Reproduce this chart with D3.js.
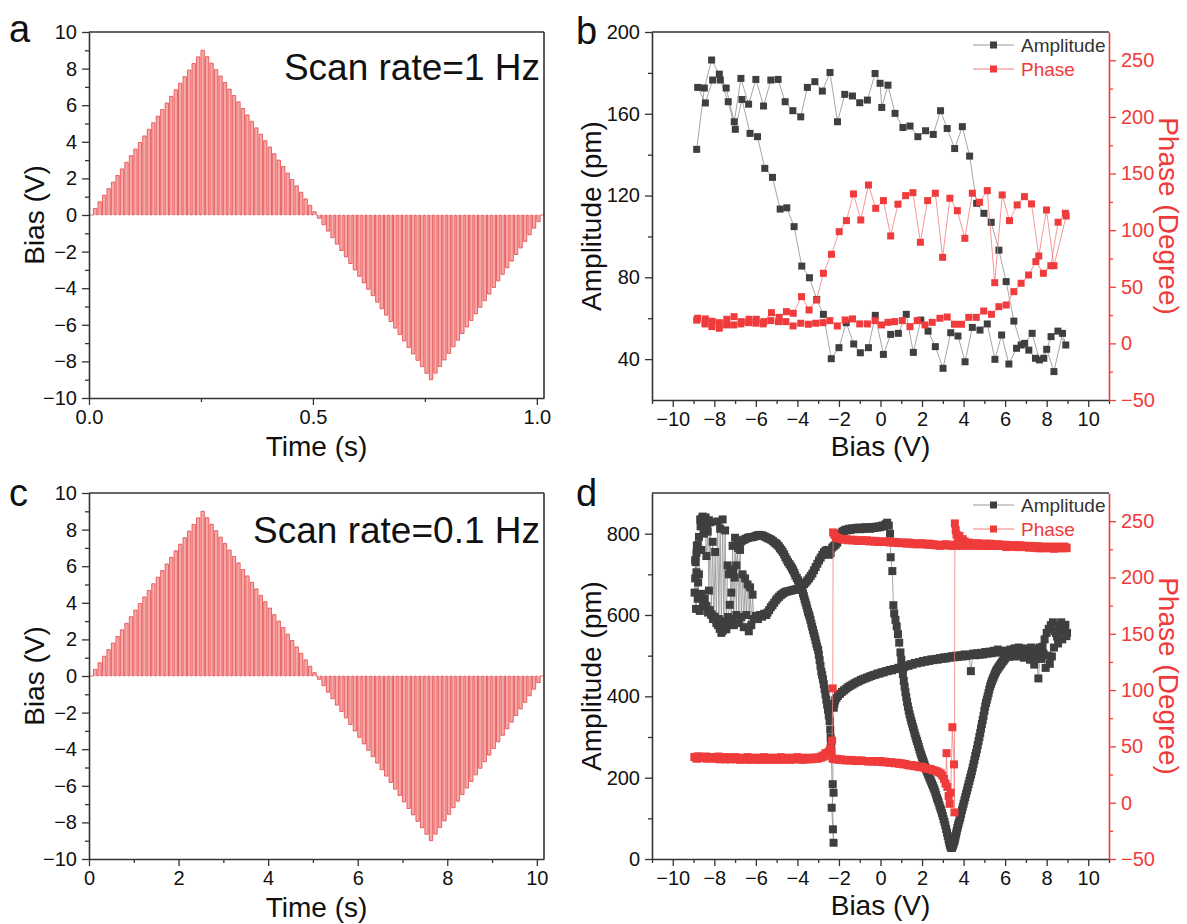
<!DOCTYPE html>
<html><head><meta charset="utf-8">
<script src="https://cdn.jsdelivr.net/npm/d3@7"></script>
<style>
body{margin:0;background:#fff}
text{font-family:"Liberation Sans",Arial,Helvetica,sans-serif}
</style>
</head><body>
<svg id="chart" width="1187" height="924"></svg>
<script>
// ---------------- DATA ----------------
// Pulse amplitudes (V) of the SS-PFM bias waveform (one value per pulse)
const pulseBias = [0.36,0.72,1.08,1.44,1.8,2.16,2.52,2.88,3.24,3.6,3.96,4.32,4.68,5.04,5.4,5.76,6.12,6.48,6.84,7.2,7.56,7.92,8.28,8.64,9.0,
8.65,8.29,7.94,7.59,7.24,6.88,6.53,6.18,5.82,5.47,5.12,4.76,4.41,4.06,3.71,3.35,3.0,2.65,2.29,1.94,1.59,1.24,0.88,0.53,0.18,
-0.18,-0.53,-0.88,-1.24,-1.59,-1.94,-2.29,-2.65,-3.0,-3.35,-3.71,-4.06,-4.41,-4.76,-5.12,-5.47,-5.82,-6.18,-6.53,-6.88,-7.24,-7.59,-7.94,-8.29,-8.65,-9.0,
-8.64,-8.28,-7.92,-7.56,-7.2,-6.84,-6.48,-6.12,-5.76,-5.4,-5.04,-4.68,-4.32,-3.96,-3.6,-3.24,-2.88,-2.52,-2.16,-1.8,-1.44,-1.08,-0.72,-0.36];
const pulsePeriodA = 0.01;   // s, scan rate 1 Hz
const pulsePeriodC = 0.1;    // s, scan rate 0.1 Hz
const pulseDuty = 0.75;

// Tick values
const timeTicksA = [0, 0.5, 1.0], timeMinorA = [0.25, 0.75];
const timeTicksC = [0, 2, 4, 6, 8, 10], timeMinorC = [1, 3, 5, 7, 9];
const biasTicksY = [-10,-8,-6,-4,-2,0,2,4,6,8,10], biasMinorY = [-9,-7,-5,-3,-1,1,3,5,7,9];
const biasTicksX = [-10,-8,-6,-4,-2,0,2,4,6,8,10], biasMinorX = [-11,-9,-7,-5,-3,-1,1,3,5,7,9,11];
const ampTicksB = [40,80,120,160,200], ampMinorB = [60,100,140,180];
const ampTicksD = [0,200,400,600,800], ampMinorD = [100,300,500,700];
const phaseTicks = [-50,0,50,100,150,200,250], phaseMinor = [-25,25,75,125,175,225];

// Panel b : amplitude (pm), forward sweep then backward sweep
const bAmpFwdBias = [-8.85,-8.48,-8.13,-7.76,-7.43,-7.04,-6.72,-6.35,-6.0,-5.63,-5.28,-4.93,-4.59,-4.22,-3.84,-3.52,-3.16,-2.8,-2.43,-2.07,-1.72,-1.35,-1.0,-0.63,-0.26,-0.02,0.06,0.36,0.70,1.08,1.42,1.80,2.17,2.54,2.89,3.21,3.57,3.94,4.29,4.63,4.98,5.33,5.70,6.05,6.42,6.77,7.14,7.46,7.86,8.21,8.54,8.92];
const bAmpFwd = [142.6,172.6,186.3,179.4,172.6,156.1,177.3,164.7,176.8,163.8,176.5,176.8,165.9,161.5,158.5,172.9,175.7,171.1,180.2,156.1,169.5,168.7,165.4,166.7,179.7,174.9,163.1,174,160.2,153.3,154,148.8,151.7,149.9,161.5,152.8,143,153.7,139.3,116.2,111.3,106.9,93.3,77.9,58.6,46.9,44.4,40.4,40.4,51,53.7,46.9];
const bAmpBwdBias = [8.76,8.35,8.0,7.65,7.30,6.94,6.55,6.18,5.83,5.51,5.14,4.79,4.42,4.07,3.73,3.38,3.01,2.64,2.29,1.94,1.58,1.24,0.86,0.49,0.14,-0.25,-0.58,-0.97,-1.29,-1.65,-2.0,-2.37,-2.75,-3.07,-3.42,-3.79,-4.16,-4.51,-4.83,-5.20,-5.57,-5.92,-6.28,-6.67,-6.99,-7.33,-7.71,-8.08,-8.43,-8.8];
const bAmpBwd = [52.6,33.9,44.8,39.6,52.6,47.7,45.3,37.6,51.8,39.9,57.2,54.2,55.5,38.7,51.3,52.9,35.5,46.1,53.7,59.1,43.3,61.9,52.6,52.1,42.3,61.4,45.6,43.1,47.4,57.8,45.6,40.2,61.9,69.2,79.8,85.5,104.8,114,113.4,128.9,133.3,148.8,150.4,167,152.4,165.9,176.5,176.5,165.3,172.9];
// Panel b : phase (degree)
const bPhaseFwdBias = [-8.85,-8.45,-8.12,-7.76,-7.41,-7.07,-6.72,-6.35,-6.0,-5.65,-5.28,-4.91,-4.56,-4.21,-3.84,-3.47,-3.12,-2.77,-2.44,-2.08,-1.70,-1.35,-1.0,-0.63,-0.26,0.05,0.36,0.68,1.05,1.42,1.77,2.14,2.49,2.86,3.21,3.56,3.90,4.25,4.61,4.97,5.34,5.70,6.05,6.42,6.77,7.13,7.48,7.84,8.2,8.55,8.9];
const bPhaseFwd = [20.5,17.2,14.8,13.4,16.3,16.3,17.2,18.3,17.8,17.2,20.1,19.2,19.2,15.4,17.8,16.9,17.8,18.3,20.1,15.4,20.7,21.6,17.2,17.2,20.1,16.3,18.6,19.2,20.1,14.8,20.1,16.3,18.6,22.2,23.3,16.9,16.9,23,23,28.6,25.7,32.4,33.9,45.7,53.1,60.4,72.2,61.9,68.6,107,114.9];
const bPhaseBwdBias = [8.94,8.35,7.99,7.62,7.27,6.93,6.58,6.21,5.86,5.50,5.14,4.77,4.42,4.06,3.70,3.34,2.99,2.64,2.27,1.92,1.56,1.21,0.84,0.49,0.14,-0.23,-0.58,-0.95,-1.30,-1.64,-1.99,-2.36,-2.75,-3.08,-3.44,-3.80,-4.2,-4.53,-4.88,-5.25,-5.62,-5.98,-6.33,-6.70,-7.05,-7.40,-7.76,-8.1,-8.43,-8.8];
const bPhaseBwd = [112.5,68.6,117.8,77.2,123.2,129.6,122.3,108.4,131.1,53.6,134.9,124.6,132.6,92.8,117.2,128.2,76,132.6,126.1,89.3,133.1,130.5,122.9,94.9,126.1,119.3,139.9,109,132,108.4,98.7,78.7,61.9,38.3,29.5,41.3,26.6,28,23,27.1,19.2,21.3,21.3,19.2,23.6,21.3,18.3,19.5,21.6,22.2];

// Panel d : [bias (V), amplitude (pm)] forward sweep
const dAmpFwd = [[-8.95,655],[-8.92,735],[-8.88,615],[-8.84,770],[-8.8,640],[-8.74,700],[-8.68,835],[-8.62,760],[-8.56,842],[-8.5,800],[-8.44,818],[-8.38,745],[-8.32,805],[-8.26,660],[-8.2,828],[-8.14,600],[-8.08,780],[-8.02,595],[-7.96,755],[-7.9,580],[-7.84,830],[-7.78,590],[-7.72,812],[-7.66,570],[-7.6,835],[-7.54,585],[-7.48,808],[-7.42,565],[-7.36,722],[-7.3,700],[-7.24,712],[-7.18,590],[-7.12,770],[-7.06,575],[-7.0,790],[-6.94,600],[-6.88,782],[-6.82,580],[-6.76,760],[-6.7,595],[-6.64,700],[-6.58,570],[-6.52,690],[-6.46,600],[-6.4,675],[-6.34,560],[-6.28,668],[-6.22,575],[-6.16,650],[-6.1,590],[-6.0,598],[-5.9,590],[-5.8,600],[-5.7,596],[-5.6,603],[-5.5,600],
[-5.44,606],[-5.36,612],[-5.28,619],[-5.2,624],[-5.12,630],[-5.04,636],[-4.96,641],[-4.88,645],[-4.8,649],[-4.72,652],[-4.64,655],[-4.56,657],[-4.48,658],[-4.4,659],[-4.32,660],[-4.24,661],[-4.16,662],[-4.08,663],[-4.0,664],[-3.92,666],[-3.84,668],[-3.76,672],[-3.68,676],[-3.6,680],[-3.52,685],[-3.44,690],[-3.36,696],[-3.28,702],[-3.2,710],[-3.12,718],[-3.04,726],[-2.96,734],[-2.88,741],[-2.8,748],[-2.72,754],[-2.64,758],[-2.56,760],[-2.48,748],[-2.4,752],[-2.32,766],[-2.24,770],[-2.16,773],[-2.08,778],[-2.0,792],[-1.92,800],[-1.84,805],[-1.76,807],[-1.68,810],[-1.6,808],[-1.52,812],[-1.44,809],[-1.36,813],[-1.28,811],[-1.2,814],[-1.12,812],[-1.04,815],[-0.96,811],[-0.88,814],[-0.8,812],[-0.72,816],[-0.64,813],[-0.56,815],[-0.48,812],[-0.4,816],[-0.32,814],[-0.24,817],[-0.16,815],[-0.08,818],[0.0,816],[0.08,820],[0.16,818],[0.24,823],[0.32,827],[0.4,820],[0.46,800],
[0.49,742],[0.57,708],[0.62,624],[0.66,604],[0.72,588],[0.78,572],[0.84,553],[0.9,532],[0.96,508],[1.0,490],[1.04,473],[1.08,455],[1.12,438],[1.16,424],[1.2,410],[1.24,398],[1.28,386],[1.32,375],[1.36,365],[1.4,356],[1.44,348],[1.48,340],[1.52,333],[1.56,325],[1.6,318],[1.64,310],[1.68,303],[1.72,296],[1.76,290],[1.8,283],[1.84,276],[1.88,269],[1.92,262],[1.96,256],[2.0,250],[2.04,244],[2.08,238],[2.12,232],[2.16,226],[2.2,220],[2.24,215],[2.28,210],[2.32,205],[2.36,200],[2.4,195],[2.44,190],[2.48,185],[2.52,180],[2.56,175],[2.6,170],[2.64,164],[2.68,157],[2.72,150],[2.76,145],[2.8,139],[2.84,132],[2.88,126],[2.92,120],[2.96,113],[3.0,106],[3.04,98],[3.08,91],[3.12,83],[3.16,74],[3.2,65],[3.24,56],[3.28,48],[3.31,41],[3.34,35],[3.37,31],[3.4,28],[3.43,27],[3.46,30],[3.49,34],[3.52,38],[3.55,43],[3.58,48],[3.61,55],[3.64,62],[3.67,69],[3.7,76],[3.73,82],[3.76,88],[3.8,95],[3.84,102],[3.88,111],[3.92,120],[3.96,128],[4.0,136],[4.04,144],[4.08,152],[4.12,160],[4.16,168],[4.2,176],[4.24,184],[4.28,192],[4.32,200],[4.36,208],[4.4,216],[4.44,225],[4.48,234],[4.52,243],[4.56,253],[4.6,261],[4.64,270],[4.68,280],[4.72,290],[4.76,300],[4.8,310],[4.84,321],[4.88,332],[4.92,342],[4.96,352],[5.0,364],[5.04,375],[5.08,384],[5.12,392],[5.16,400],[5.2,408],[5.24,417],[5.28,425],[5.32,431],[5.36,437],[5.4,442],[5.44,447],[5.48,452],[5.52,457],[5.56,461],[5.6,465],[5.64,468],[5.68,471],[5.72,474],[5.76,477],[5.8,480],[5.84,483],[5.88,486],[5.92,488],[5.96,491],[6.0,494],
[6.1,500],[6.2,497],[6.3,510],[6.4,504],[6.5,498],[6.6,512],[6.7,500],[6.8,507],[6.9,495],[7.0,509],[7.1,500],[7.2,490],[7.3,505],[7.4,478],[7.5,497],[7.6,444],[7.7,512],[7.8,522],[7.9,540],[8.0,556],[8.1,566],[8.2,575],[8.3,582],[8.4,560],[8.5,547],[8.6,571],[8.7,582],[8.8,560],[8.9,576],[8.98,556]];
// Panel d : [bias (V), amplitude (pm)] backward sweep
const dAmpBwd = [[8.95,548],[8.85,562],[8.75,540],[8.65,575],[8.55,530],[8.45,555],[8.35,520],[8.25,498],[8.15,480],[8.05,500],[7.95,470],[7.85,505],[7.75,492],[7.65,520],[7.55,500],[7.45,515],[7.35,505],[7.25,520],[7.15,508],[7.05,515],[6.95,505],[6.85,518],[6.75,510],[6.65,520],[6.55,512],[6.45,518],[6.35,510],[6.25,515],[6.15,508],[6.05,512],[5.95,505],[5.85,512],[5.75,508],[5.65,515],[5.55,508],[5.45,512],[5.35,506],[5.25,510],[5.15,505],[5.05,509],[4.95,503],[4.85,507],[4.75,502],[4.65,506],[4.55,501],[4.45,505],[4.35,462],[4.25,502],[4.15,499],[4.05,503],[3.95,498],[3.85,501],[3.75,497],[3.65,500],[3.55,496],[3.45,499],[3.35,495],[3.25,497],[3.15,493],[3.05,496],[2.95,492],[2.85,494],[2.75,490],[2.65,492],[2.55,489],[2.45,491],[2.35,487],[2.25,489],[2.15,485],[2.05,487],[1.95,483],[1.85,484],[1.75,481],[1.65,482],[1.55,478],[1.45,479],[1.35,475],[1.25,476],[1.15,472],[1.05,473],[0.95,470],[0.85,470],[0.75,467],[0.65,467],[0.55,464],[0.45,465],[0.35,462],[0.25,462],[0.15,459],[0.05,459],[-0.05,456],[-0.15,456],[-0.25,453],[-0.35,452],[-0.45,450],[-0.55,448],[-0.65,446],[-0.75,444],[-0.85,442],[-0.95,440],[-1.05,437],[-1.15,435],[-1.25,432],[-1.35,429],[-1.45,426],[-1.55,423],[-1.65,419],[-1.75,415],[-1.85,411],[-1.95,406],[-2.05,401],[-2.12,396],[-2.18,390],[-2.22,382],[-2.25,372],
[-2.3,184],[-2.26,163],[-2.35,126],[-2.29,73],[-2.26,40],
[-2.37,261],[-2.38,280],[-2.4,298],[-2.42,318],[-2.45,339],[-2.49,353],[-2.53,367],[-2.57,380],[-2.61,392],[-2.65,405],[-2.69,418],[-2.73,430],[-2.77,442],[-2.81,452],[-2.85,461],[-2.89,475],[-2.93,489],[-2.97,502],[-3.0,514],[-3.05,522],[-3.09,530],[-3.13,539],[-3.17,547],[-3.21,555],[-3.25,563],[-3.29,571],[-3.33,579],[-3.37,588],[-3.41,596],[-3.45,602],[-3.49,608],[-3.53,616],[-3.57,624],[-3.61,631],[-3.65,638],[-3.69,646],[-3.73,653],[-3.78,661],[-3.84,669],[-3.9,677],[-3.97,685],[-4.03,691],[-4.1,697],[-4.15,704],[-4.21,710],[-4.26,715],[-4.32,720],[-4.38,725],[-4.45,730],[-4.51,736],[-4.58,742],[-4.64,749],[-4.71,755],[-4.77,760],[-4.84,764],[-4.9,769],[-4.97,773],[-5.03,776],[-5.1,778],[-5.18,782],[-5.26,785],[-5.34,787],[-5.42,789],[-5.5,791],[-5.58,793],[-5.66,795],[-5.74,796],[-5.82,797],[-5.9,796],[-5.98,795],[-6.06,793],[-6.14,792],[-6.22,791],[-6.3,791],[-6.38,790],[-6.46,788],[-6.54,786],[-6.62,784],[-6.7,781],
[-6.78,775],[-6.86,765],[-6.94,722],[-7.02,692],[-7.1,710],[-7.18,655],[-7.26,625],[-7.34,595],[-7.42,578],[-7.5,570],[-7.58,562],[-7.66,556],[-7.74,566],[-7.82,575],[-7.9,588],[-7.98,596],[-8.06,590],[-8.14,602],[-8.22,612],[-8.3,606],[-8.38,622],[-8.46,640],[-8.54,622],[-8.62,652],[-8.7,610],[-8.78,680],[-8.86,705],[-8.92,690],[-8.9,730],[-8.86,752],[-8.8,772],[-8.74,792],[-8.66,818],[-8.58,838],[-8.5,826],[-8.42,840],[-8.34,812],[-8.26,833]];
// Panel d : [bias (V), phase (degree)] forward sweep
const dPhaseFwd = [[-8.95,40.5],[-8.85,39],[-8.75,41],[-8.65,40],[-8.55,39.5],[-8.45,40.5],[-8.35,39],[-8.25,40],[-8.15,39.5],[-8.05,40.5],[-7.95,39],[-7.85,40],[-7.75,38.5],[-7.65,39.5],[-7.55,40],[-7.45,38.5],[-7.35,39.5],[-7.25,38.5],[-7.15,39.5],[-7.05,40],[-6.95,38.5],[-6.85,39],[-6.75,38],[-6.65,39.5],[-6.55,38.5],[-6.45,39],[-6.35,38],[-6.25,39.5],[-6.15,38.5],[-6.05,39],[-5.95,38],[-5.85,39.5],[-5.75,38.5],[-5.65,39],[-5.55,38],[-5.45,39],[-5.35,38.5],[-5.25,39.5],[-5.15,38],[-5.05,39],[-4.95,38.5],[-4.85,39],[-4.75,38],[-4.65,39.5],[-4.55,38.5],[-4.45,39],[-4.35,38],[-4.25,39],[-4.15,38.5],[-4.05,39.5],[-3.95,38.5],[-3.85,39],[-3.75,38],[-3.65,39],[-3.55,38.5],[-3.45,39.5],[-3.35,38.5],[-3.25,39],[-3.15,40],[-3.05,39],[-2.95,40],[-2.85,41],[-2.75,42],[-2.65,44],[-2.55,43],[-2.45,46],[-2.38,42],[-2.3,39],[-2.2,38.5],[-2.1,39],[-2.0,38],[-1.9,38.5],[-1.8,38],[-1.7,37.5],[-1.6,38],[-1.5,37.5],[-1.4,38],[-1.3,37.5],[-1.2,37],[-1.1,37.5],[-1.0,37],[-0.9,37.5],[-0.8,37],[-0.7,37],[-0.6,36.5],[-0.5,37],[-0.4,36.5],[-0.3,37],[-0.2,36.5],[-0.1,36.5],[0.0,37],[0.1,36],[0.2,36.5],[0.3,36],[0.4,35.5],[0.5,36],[0.6,35.5],[0.7,35],[0.8,35.5],[0.9,34.5],[1.0,35],[1.1,34],[1.2,34.5],[1.3,33.5],[1.4,33],[1.5,33.5],[1.6,32.5],[1.7,33],[1.8,32],[1.9,31.5],[2.0,32],[2.1,31],[2.2,30.5],[2.3,30],[2.4,30],[2.5,29],[2.6,28.5],[2.7,28],[2.8,27],[2.9,26],[2.98,24],[3.06,21],[3.13,17],[3.18,44],[3.22,14],[3.28,6],[3.33,-1],[3.38,9],[3.46,67],[3.54,34],[3.56,-8.6],[3.58,248],[3.62,242],[3.66,238],[3.72,235],[3.8,237],[3.88,233],[3.96,234],[4.05,232],[4.15,230],[4.25,231],[4.35,229],[4.45,230],[4.55,229],[4.65,230.5],[4.75,229],[4.85,230],[4.95,228.5],[5.05,230],[5.15,229],[5.25,230],[5.35,228.5],[5.45,229.5],[5.55,228.5],[5.65,229.5],[5.75,228],[5.85,229],[5.95,228],[6.05,229],[6.15,227.5],[6.25,228.5],[6.35,227.5],[6.45,228.5],[6.55,227],[6.65,228.5],[6.75,227],[6.85,228],[6.95,227],[7.05,228],[7.15,226.5],[7.25,227.5],[7.35,226.5],[7.45,227.5],[7.55,226],[7.65,227.5],[7.75,226],[7.85,227],[7.95,226],[8.05,227],[8.15,226],[8.25,227],[8.35,225.5],[8.45,226.5],[8.55,226],[8.65,227],[8.75,226],[8.85,226.5],[8.95,226]];
// Panel d : [bias (V), phase (degree)] backward sweep
const dPhaseBwd = [[8.95,226.5],[8.85,227.5],[8.75,226],[8.65,227],[8.55,226.5],[8.45,227.5],[8.35,226],[8.25,227],[8.15,226.5],[8.05,227.5],[7.95,226.5],[7.85,227],[7.75,226],[7.65,227.5],[7.55,226.5],[7.45,227],[7.35,228],[7.25,227],[7.15,228],[7.05,227],[6.95,228],[6.85,227.5],[6.75,228.5],[6.65,227],[6.55,228],[6.45,227.5],[6.35,228.5],[6.25,227.5],[6.15,228],[6.05,227],[5.95,228.5],[5.85,228],[5.75,229],[5.65,228],[5.55,229],[5.45,228],[5.35,229.5],[5.25,228.5],[5.15,229],[5.05,228],[4.95,229.5],[4.85,228.5],[4.75,229],[4.65,228],[4.55,229],[4.45,228.5],[4.35,229.5],[4.25,228],[4.15,229],[4.05,228.5],[3.95,229],[3.85,228],[3.75,229],[3.65,228.5],[3.55,229],[3.45,228],[3.35,229],[3.25,228.5],[3.15,229.5],[3.05,228.5],[2.95,229],[2.85,228],[2.75,229],[2.65,228.5],[2.55,229.5],[2.45,229],[2.35,230],[2.25,229],[2.15,230],[2.05,229.5],[1.95,230.5],[1.85,229.5],[1.75,230],[1.65,229.5],[1.55,230.5],[1.45,230],[1.35,231],[1.25,230],[1.15,231],[1.05,230.5],[0.95,231],[0.85,230.5],[0.75,231.5],[0.65,231],[0.55,231.5],[0.45,231],[0.35,232],[0.25,231.5],[0.15,232],[0.05,231.5],[-0.05,232],[-0.15,231.5],[-0.25,232.5],[-0.35,232],[-0.45,232.5],[-0.55,232],[-0.65,233],[-0.75,232.5],[-0.85,233],[-0.95,232.5],[-1.05,233],[-1.15,232.5],[-1.25,233.5],[-1.35,233],[-1.45,233.5],[-1.55,233],[-1.65,234],[-1.75,233.5],[-1.85,234],[-1.95,234.5],[-2.05,235],[-2.15,236],[-2.22,238],[-2.28,240],[-2.3,101.5],[-2.33,55],[-2.36,46],[-2.42,48],[-2.5,45],[-2.6,43],[-2.7,41],[-2.85,40],[-3.0,39.5],[-3.2,40],[-3.4,39],[-3.6,40],[-3.8,39.5],[-4.0,40.5],[-4.2,39.5],[-4.4,40],[-4.6,39],[-4.8,40.5],[-5.0,39.5],[-5.2,40],[-5.4,39.5],[-5.6,40.5],[-5.8,39.5],[-6.0,40],[-6.2,39.5],[-6.4,40.5],[-6.6,39.5],[-6.8,40],[-7.0,40.5],[-7.2,39.5],[-7.4,40.5],[-7.6,40],[-7.8,41],[-8.0,40],[-8.2,40.5],[-8.4,41],[-8.6,40],[-8.8,41],[-8.95,40.5]];

// ---------------- DRAWING ----------------
const svg = d3.select('#chart');
const FONT_TICK = 20, FONT_TITLE = 28;
const AXIS_COL = '#333', RED = '#ef3b3b', AMP_COL = '#3f3f3f';

const panels = {
  a: {left: 89, top: 32, right: 544, bottom: 398},
  b: {left: 652, top: 32, right: 1109, bottom: 400},
  c: {left: 89, top: 493, right: 544, bottom: 859},
  d: {left: 652, top: 493, right: 1109, bottom: 859}
};

function styleAxis(sel, color, width) {
  sel.select('.domain').attr('stroke', color).attr('stroke-width', width);
  sel.selectAll('.tick line').attr('stroke', color).attr('stroke-width', 1.3);
  sel.selectAll('.tick text').attr('fill', color === RED ? RED : '#111')
     .style('font-size', FONT_TICK + 'px');
}

function addAxis(g, axisFn, scale, major, minor, fmt, transform, color) {
  const gm = g.append('g').attr('transform', transform)
    .call(axisFn(scale).tickValues(minor).tickSize(4).tickFormat(''));
  gm.select('.domain').remove();
  gm.selectAll('.tick line').attr('stroke', color).attr('stroke-width', 1.3);
  const ga = g.append('g').attr('transform', transform)
    .call(axisFn(scale).tickValues(major).tickSizeInner(7).tickSizeOuter(0).tickPadding(5).tickFormat(fmt));
  styleAxis(ga, color, 1.6);
  return ga;
}

function frameLine(g, x1, y1, x2, y2, color) {
  g.append('line').attr('x1', x1).attr('y1', y1).attr('x2', x2).attr('y2', y2)
    .attr('stroke', color).attr('stroke-width', 1.6);
}

function titleText(x, y, txt, rot, color, size) {
  svg.append('text').attr('transform', `translate(${x},${y}) rotate(${rot})`)
    .attr('text-anchor', 'middle').attr('fill', color || '#111')
    .style('font-size', (size || FONT_TITLE) + 'px').text(txt);
}

function panelLetter(x, y, t) {
  svg.append('text').attr('x', x).attr('y', y).attr('fill', '#111')
    .style('font-size', '38px').text(t);
}

// ---- pulse waveform panels (a, c)
function pulsePanel(p, period, xMax, ticks, minor, fmt, label, labelY) {
  const g = svg.append('g');
  const x = d3.scaleLinear().domain([0, xMax]).range([p.left, p.right]);
  const y = d3.scaleLinear().domain([-10, 10]).range([p.bottom, p.top]);
  const y0 = y(0);
  const pulses = pulseBias.map((v, i) => ({t0: (i + 1) * period, t1: (i + 1 + pulseDuty) * period, v}));
  g.selectAll('rect.p').data(pulses).enter().append('rect')
    .attr('x', d => x(d.t0)).attr('width', d => x(d.t1) - x(d.t0))
    .attr('y', d => Math.min(y(d.v), y0)).attr('height', d => Math.abs(y(d.v) - y0))
    .attr('fill', '#f6a9a9');
  const path = d3.path();
  path.moveTo(x(0), y0);
  pulses.forEach(d => {
    path.lineTo(x(d.t0), y0); path.lineTo(x(d.t0), y(d.v));
    path.lineTo(x(d.t1), y(d.v)); path.lineTo(x(d.t1), y0);
  });
  path.lineTo(x(xMax), y0);
  g.append('path').attr('d', path.toString()).attr('fill', 'none')
    .attr('stroke', '#e64545').attr('stroke-width', 0.8);

  addAxis(g, d3.axisBottom, x, ticks, minor, fmt, `translate(0,${p.bottom})`, AXIS_COL);
  addAxis(g, d3.axisLeft, y, biasTicksY, biasMinorY, d3.format('d'), `translate(${p.left},0)`, AXIS_COL);
  frameLine(g, p.left, p.top, p.right, p.top, AXIS_COL);
  frameLine(g, p.right, p.top, p.right, p.bottom, AXIS_COL);

  svg.append('text').attr('x', p.right - 4).attr('y', labelY).attr('text-anchor', 'end')
    .attr('fill', '#111').style('font-size', '37px').text(label);
  titleText(44, (p.top + p.bottom) / 2, 'Bias (V)', -90);
  titleText((p.left + p.right) / 2, p.bottom + 58, 'Time (s)', 0);
}

pulsePanel(panels.a, pulsePeriodA, 1.016, timeTicksA, timeMinorA, d3.format('.1f'), 'Scan rate=1 Hz', 80);
pulsePanel(panels.c, pulsePeriodC, 10.16, timeTicksC, timeMinorC, d3.format('d'), 'Scan rate=0.1 Hz', 543);

// ---- loop panels (b, d)
function loopPanel(p, ampDomain, ampTicks, ampMinor, ampSeries, phaseSeries, legendY, s) {
  const g = svg.append('g');
  const x = d3.scaleLinear().domain([-11, 11]).range([p.left, p.right]);
  const yA = d3.scaleLinear().domain(ampDomain).range([p.bottom, p.top]);
  const yP = d3.scaleLinear().domain([-50, 275]).range([p.bottom, p.top]);

  const lineA = d3.line().x(d => x(d[0])).y(d => yA(d[1]));
  const lineP = d3.line().x(d => x(d[0])).y(d => yP(d[1]));

  g.append('path').attr('d', lineA(ampSeries)).attr('fill', 'none')
    .attr('stroke', '#8f8f8f').attr('stroke-width', 0.8);
  g.selectAll('rect.a').data(ampSeries).enter().append('rect')
    .attr('x', d => x(d[0]) - s / 2).attr('y', d => yA(d[1]) - s / 2)
    .attr('width', s).attr('height', s).attr('fill', AMP_COL);

  g.append('path').attr('d', lineP(phaseSeries)).attr('fill', 'none')
    .attr('stroke', '#f27d7d').attr('stroke-width', 0.8);
  g.selectAll('rect.ph').data(phaseSeries).enter().append('rect')
    .attr('x', d => x(d[0]) - s / 2).attr('y', d => yP(d[1]) - s / 2)
    .attr('width', s).attr('height', s).attr('fill', RED);

  addAxis(g, d3.axisBottom, x, biasTicksX, biasMinorX, d3.format('d'), `translate(0,${p.bottom})`, AXIS_COL);
  addAxis(g, d3.axisLeft, yA, ampTicks, ampMinor, d3.format('d'), `translate(${p.left},0)`, AXIS_COL);
  addAxis(g, d3.axisRight, yP, phaseTicks, phaseMinor, d3.format('d'), `translate(${p.right},0)`, RED);
  frameLine(g, p.left, p.top, p.right, p.top, AXIS_COL);

  // legend
  const lx1 = 973, lx2 = 1014, lxm = 993.5, ls = 7;
  [['Amplitude', '#999', AMP_COL, '#333'], ['Phase', '#f27d7d', RED, RED]].forEach((it, i) => {
    const ly = legendY + i * 24;
    g.append('line').attr('x1', lx1).attr('x2', lx2).attr('y1', ly).attr('y2', ly)
      .attr('stroke', it[1]).attr('stroke-width', 1);
    g.append('rect').attr('x', lxm - ls / 2).attr('y', ly - ls / 2).attr('width', ls).attr('height', ls).attr('fill', it[2]);
    g.append('text').attr('x', 1021).attr('y', ly + 6.5).attr('fill', it[3])
      .style('font-size', '19px').text(it[0]);
  });

  const cy = (p.top + p.bottom) / 2;
  titleText(601, cy, 'Amplitude (pm)', -90);
  titleText(1159, cy, 'Phase (Degree)', 90, RED);
  titleText((p.left + p.right) / 2, p.bottom + 56, 'Bias (V)', 0);
}

const bAmpSeries = bAmpFwdBias.map((v, i) => [v, bAmpFwd[i]])
  .concat(bAmpBwdBias.map((v, i) => [v, bAmpBwd[i]]));
const bPhaseSeries = bPhaseFwdBias.map((v, i) => [v, bPhaseFwd[i]])
  .concat(bPhaseBwdBias.map((v, i) => [v, bPhaseBwd[i]]));

loopPanel(panels.b, [20, 200], ampTicksB, ampMinorB, bAmpSeries, bPhaseSeries, 45, 7);
loopPanel(panels.d, [0, 900], ampTicksD, ampMinorD, dAmpFwd.concat(dAmpBwd), dPhaseFwd.concat(dPhaseBwd), 505, 8);

panelLetter(9, 42, 'a');
panelLetter(576, 44, 'b');
panelLetter(9, 506, 'c');
panelLetter(576, 506, 'd');
</script>
</body></html>
